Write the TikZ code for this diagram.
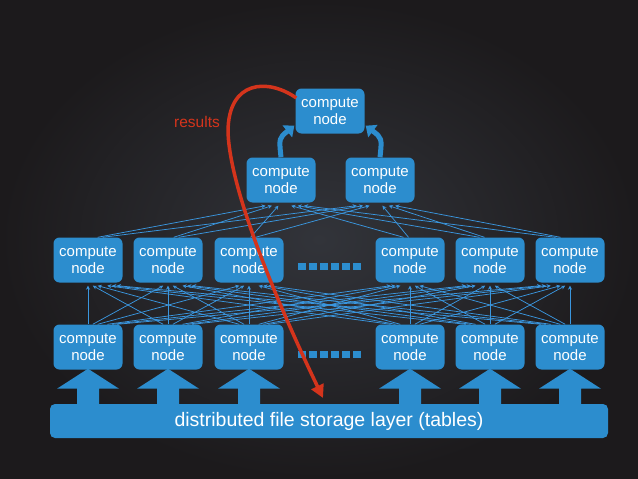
\documentclass[tikz,border=0pt]{standalone}
\usepackage{fontspec}
\setmainfont{Liberation Sans}
\usetikzlibrary{arrows.meta,calc}
\definecolor{nblue}{RGB}{44,141,206}
\definecolor{lblue}{RGB}{58,150,222}
\definecolor{rred}{RGB}{212,52,28}
\definecolor{bgin}{RGB}{50,52,58}
\definecolor{bgout}{RGB}{28,26,28}
\begin{document}
\begin{tikzpicture}[x=1pt,y=-1pt,
  cnode/.style={fill=nblue, rounded corners=6pt, minimum width=69pt, minimum height=45pt,
    inner sep=0pt, align=center, text=white, font=\fontsize{15}{17.5}\selectfont},
  lk/.style={lblue, line width=0.75pt, -{Stealth[length=4pt,width=4pt]}},
  bigarr/.style={nblue, line width=5pt, -{Triangle[length=9pt,width=15pt]}},
  redarr/.style={rred, line width=3.5pt, -{Triangle[length=13pt,width=13pt]}},
  dotsq/.style={fill=nblue}]
\useasboundingbox (0,0) rectangle (638,479);
\path[shading=radial, inner color=bgin, outer color=bgout] (0,0) rectangle (638,479);

% storage bar
\node[fill=nblue, rounded corners=5pt, minimum width=558pt, minimum height=34pt, inner sep=0pt,
  text=white, font=\fontsize{19.5}{22}\selectfont] (store) at (329,421) {distributed file storage layer (tables)};

% nodes
\node[cnode] (top) at (330,111) {compute\\node};
\node[cnode] (mL) at (281,180) {compute\\node};
\node[cnode] (mR) at (380,180) {compute\\node};
\foreach \i/\xi in {1/88,2/168,3/249,4/410,5/490,6/570}{
  \node[cnode] (a\i) at (\xi,260) {compute\\node};
  \node[cnode] (b\i) at (\xi,347) {compute\\node};
  \fill[nblue] ($(b\i.south)+(0,-1)$) -- ++(31,20) -- ++(-20,0) -- ++(0,18) -- ++(-22,0)
     -- ++(0,-18) -- ++(-20,0) -- cycle;
}

% dotted ellipses
\foreach \k in {0,...,5}{
  \fill[dotsq] ({298+11*\k},263) rectangle ++(8,7);
  \fill[dotsq] ({298+11*\k},351) rectangle ++(8,7);
}

% mesh: bottom row to middle row
\foreach \i/\xi in {1/88,2/168,3/249,4/410,5/490,6/570}{
  \foreach \j/\xj in {1/88,2/168,3/249,4/410,5/490,6/570}{
    \draw[lk] ($(b\i.north)+({(\xj-\xi)*0.06},0)$) -- ($(a\j.south)+({(\xi-\xj)*0.06},3)$);
  }
}
% middle row to the two aggregation nodes
\foreach \i/\xi in {1/88,2/168,3/249,4/410,5/490,6/570}{
  \foreach \m/\xm in {L/281,R/380}{
    \draw[lk] ($(a\i.north)+({(\xm-\xi)*0.05},0)$) -- ($(m\m.south)+({(\xi-\xm)*0.08},3)$);
  }
}

% thick blue arrows to top
\draw[bigarr] (mL.north) .. controls (279,138) .. ($(top.south west)+(-1,-8)$);
\draw[bigarr] (mR.north) .. controls (382,138) .. ($(top.south east)+(1,-8)$);

% results
\node[text=rred, font=\fontsize{15.5}{17}\selectfont] (res) at (197,122) {results};
\coordinate (rs) at ($(top.west)+(1,-13)$);
\coordinate (re) at (323,398);
\draw[redarr] (rs) .. controls (268,78) and (228,80) .. (228,132)
   .. controls (230,190) and (276,300) .. (re);
\end{tikzpicture}
\end{document}
